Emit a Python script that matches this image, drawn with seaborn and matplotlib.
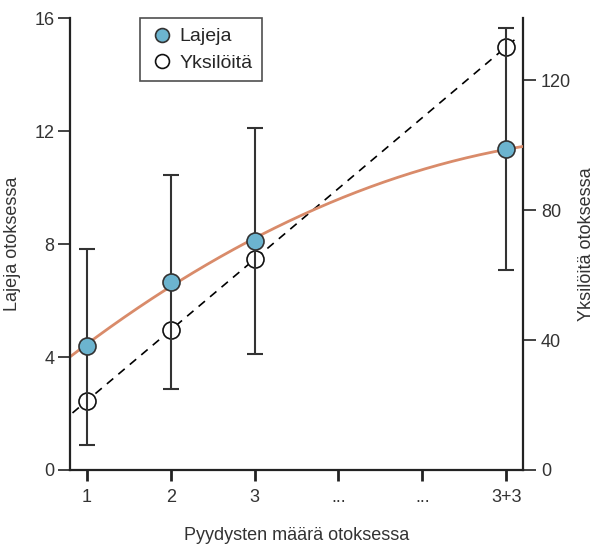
import numpy as np
import pandas as pd
import matplotlib
matplotlib.use("Agg")
import matplotlib.pyplot as plt
import seaborn as sns
from matplotlib.lines import Line2D

# Data
tick_labels = ["1", "2", "3", "...", "...", "3+3"]
x_pos = [1, 2, 3, 6]
lajeja = [4.39, 6.65, 8.1, 11.36]
lajeja_low = [0.9, 2.88, 4.1, 7.08]
lajeja_high = [7.84, 10.44, 12.1, 15.65]
yksiloita = [21.2, 43.1, 64.9, 130.2]

sns.set_theme(style="ticks")
plt.rcParams['font.family'] = ['Liberation Sans', 'DejaVu Sans']

fig = plt.figure(figsize=(5.94, 5.49), dpi=100)
ax = fig.add_axes([0.1178, 0.1439, 0.8805 - 0.1178, 0.9672 - 0.1439])
ax2 = ax.twinx()

dark = "#222222"
fs = 13

# Fits
xs = np.linspace(0.8, 6.2, 200)
c2 = np.polyfit(x_pos, lajeja, 2)
xs_l = np.linspace(0.83, 6.15, 200)
c1 = np.polyfit(x_pos, yksiloita, 1)

sns.lineplot(x=xs, y=np.polyval(c2, xs), ax=ax, color="#d98b6a", lw=2, zorder=2)
sns.lineplot(x=xs_l, y=np.polyval(c1, xs_l), ax=ax2, color="black", lw=1.2,
             linestyle=(0, (5, 4)), zorder=2)

# Error bars
yerr = [np.array(lajeja) - np.array(lajeja_low), np.array(lajeja_high) - np.array(lajeja)]
ax.errorbar(x_pos, lajeja, yerr=yerr, fmt="none", ecolor="#333333", elinewidth=1.5,
            capsize=6, capthick=1.5, zorder=3)

sns.scatterplot(x=x_pos, y=lajeja, ax=ax, color="#6cb4cf", edgecolor="#333333",
                linewidth=1.2, s=150, zorder=5)
sns.scatterplot(x=x_pos, y=yksiloita, ax=ax2, color="white", edgecolor="#111111",
                linewidth=1.2, s=150, zorder=5)

ax.set_zorder(ax2.get_zorder() + 1)
ax.patch.set_visible(False)

ax.set_xlim(0.8, 6.2)
ax.set_ylim(0, 16)
ax2.set_ylim(0, 139.1)
ax.set_xticks(range(1, 7))
ax.set_xticklabels(tick_labels)
ax.set_yticks([0, 4, 8, 12, 16])
ax2.set_yticks([0, 40, 80, 120])

for a in (ax, ax2):
    a.spines["top"].set_visible(False)
    for s in ["left", "right", "bottom"]:
        a.spines[s].set_linewidth(1.6)
        a.spines[s].set_color(dark)
ax.spines["right"].set_visible(False)
ax2.spines["left"].set_visible(False)
ax2.spines["bottom"].set_visible(False)

ax.tick_params(axis="x", direction="out", length=8, width=2, color=dark, labelsize=fs,
               pad=6, labelcolor="#333333")
ax.tick_params(axis="y", direction="out", length=9, width=1.2, color=dark, labelsize=fs,
               labelcolor="#333333", pad=2)
ax2.tick_params(axis="y", direction="out", length=9, width=1.2, color=dark, labelsize=fs,
                labelcolor="#333333", pad=4)

ax.set_xlabel("Pyydysten määrä otoksessa", fontsize=fs, color="#333333", labelpad=15)
ax.set_ylabel("Lajeja otoksessa", fontsize=fs, color="#333333", labelpad=10)
ax2.set_ylabel("Yksilöitä otoksessa", fontsize=fs, color="#333333", labelpad=5)

handles = [
    Line2D([], [], marker="o", linestyle="none", markersize=10, markerfacecolor="#6cb4cf",
           markeredgecolor="#333333", markeredgewidth=1.2),
    Line2D([], [], marker="o", linestyle="none", markersize=10, markerfacecolor="white",
           markeredgecolor="#111111", markeredgewidth=1.2),
]
leg = ax.legend(handles, ["Lajeja", "Yksilöitä"], loc="upper left",
                bbox_to_anchor=(0.155, 1.0), borderaxespad=0, fontsize=fs + 1,
                frameon=True, fancybox=False,
                edgecolor=dark, handletextpad=0.3, borderpad=0.5, labelspacing=0.45,
                handlelength=1.2)
leg.get_frame().set_linewidth(1.2)

fig.savefig("out.png", dpi=100)
